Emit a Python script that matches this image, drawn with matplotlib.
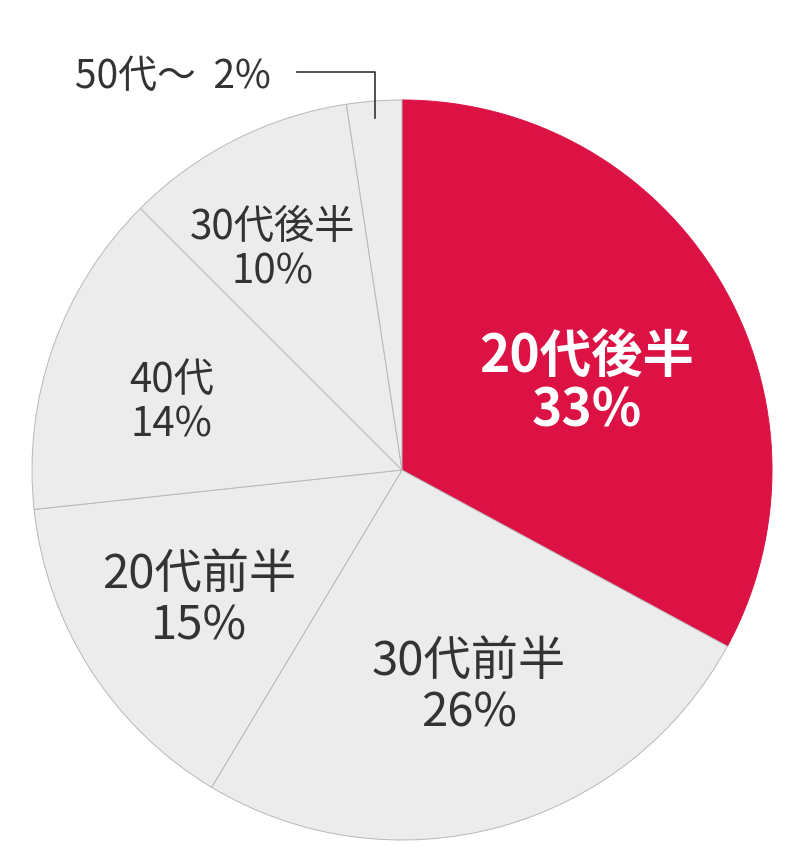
import matplotlib
matplotlib.use("Agg")
import matplotlib.pyplot as plt

plt.rcParams["font.family"] = ["Noto Sans CJK JP", "DejaVu Sans"]

# age group shares (%), clockwise from 12 o'clock
LABELS = ["20代後半", "30代前半", "20代前半", "40代", "30代後半", "50代〜"]
SHARES = [32.9, 25.7, 14.7, 14.2, 10.1, 2.4]

RED = "#dc1245"
GREY = "#ececec"
INK = "#333333"

# label centres in data units (pie radius = 1), font sizes, line spacing
POS = [(0.50, 0.232), (0.181, -0.588), (-0.549, -0.353),
       (-0.622, 0.182), (-0.351, 0.595)]
SIZE = [37, 34, 34, 29, 29]
LSP = [1.02, 1.1, 1.1, 1.12, 1.12]

fig = plt.figure(figsize=(8, 8.48), dpi=100)
ax = fig.add_axes([0.04, 8 / 848, 740 / 800, 740 / 848])

colors = [RED] + [GREY] * (len(SHARES) - 1)
wedges, _ = ax.pie(SHARES, colors=colors, startangle=90, counterclock=False,
                   radius=1, wedgeprops=dict(edgecolor="#b8b8b8", linewidth=0.7))
wedges[0].set_edgecolor(RED)
ax.set_xlim(-1, 1); ax.set_ylim(-1, 1)
ax.set_aspect("equal")
ax.axis("off")

for i, (lab, val) in enumerate(zip(LABELS[:-1], SHARES[:-1])):
    x, y = POS[i]
    first = i == 0
    ax.text(x, y, f"{lab}\n{val:.0f}%", ha="center", va="center",
            fontsize=SIZE[i], color="white" if first else INK,
            weight="bold" if first else "normal", linespacing=LSP[i])

# small slice: outside label with leader line
ax.text(-0.884, 1.062, f"{LABELS[-1]}  {SHARES[-1]:.0f}%", ha="left", va="center",
        fontsize=28, color=INK, clip_on=False)
ax.plot([-0.284, -0.073, -0.073], [1.076, 1.076, 0.951], color=INK, lw=1.2,
        clip_on=False)

fig.savefig("out.png", dpi=100, facecolor="white")
